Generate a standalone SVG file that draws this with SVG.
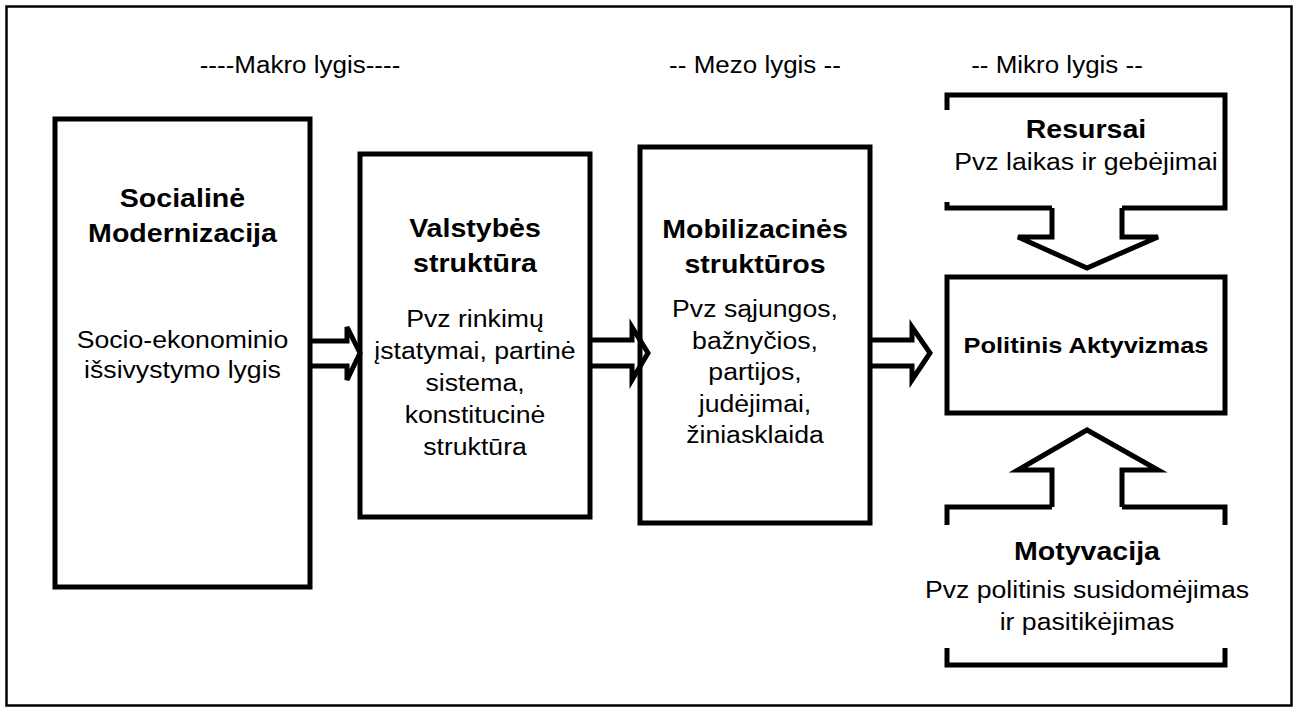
<svg xmlns="http://www.w3.org/2000/svg" width="1294" height="711" viewBox="0 0 1294 711">
<style>
.box{fill:#fff;stroke:#000;stroke-width:5}
.ln{fill:none;stroke:#000;stroke-width:5;stroke-linejoin:miter}
.conn{fill:none;stroke:#000;stroke-width:5;stroke-linejoin:miter}
text{font-family:"Liberation Sans",Arial,sans-serif;text-anchor:middle;fill:#000}
.h{font-size:23.2px}
.r{font-size:23.8px}
.b{font-size:25.5px;font-weight:bold}
.bs{font-size:22.7px;font-weight:bold}
</style>
<rect x="0" y="0" width="1294" height="711" fill="#fff"/>
<rect x="6.5" y="6.5" width="1285" height="699" fill="none" stroke="#000" stroke-width="2.5"/>

<g id="headings">
<g transform="translate(300,0) scale(1.12,1)"><text class="h" x="0" y="73">----Makro lygis----</text></g>
<g transform="translate(755,0) scale(1.12,1)"><text class="h" x="0" y="73">-- Mezo lygis --</text></g>
<g transform="translate(1057,0) scale(1.12,1)"><text class="h" x="0" y="73">-- Mikro lygis --</text></g>
</g>

<g id="node-socialine">
<rect class="box" x="55" y="119" width="255" height="468"/>
<g transform="translate(182.5,0) scale(1.12,1)">
<text class="b" x="0" y="207">Socialinė</text>
<text class="b" x="0" y="242">Modernizacija</text>
<text class="r" x="0" y="348">Socio-ekonominio</text>
<text class="r" x="0" y="378">išsivystymo lygis</text>
</g>
</g>

<g id="node-valstybes">
<rect class="box" x="360" y="154" width="230" height="363"/>
<g transform="translate(475,0) scale(1.12,1)">
<text class="b" x="0" y="237">Valstybės</text>
<text class="b" x="0" y="272">struktūra</text>
<text class="r" x="0" y="327">Pvz rinkimų</text>
<text class="r" x="0" y="359">įstatymai, partinė</text>
<text class="r" x="0" y="391">sistema,</text>
<text class="r" x="0" y="423">konstitucinė</text>
<text class="r" x="0" y="455">struktūra</text>
</g>
</g>

<g id="node-mobilizacines">
<rect class="box" x="640" y="147" width="230" height="376"/>
<g transform="translate(755,0) scale(1.12,1)">
<text class="b" x="0" y="238">Mobilizacinės</text>
<text class="b" x="0" y="273">struktūros</text>
<text class="r" x="0" y="317">Pvz sąjungos,</text>
<text class="r" x="0" y="349">bažnyčios,</text>
<text class="r" x="0" y="380">partijos,</text>
<text class="r" x="0" y="412">judėjimai,</text>
<text class="r" x="0" y="443">žiniasklaida</text>
</g>
</g>

<g id="node-politinis">
<rect class="box" x="947" y="277" width="278" height="136"/>
<g transform="translate(1086,0) scale(1.12,1)">
<text class="bs" x="0" y="353">Politinis Aktyvizmas</text>
</g>
</g>

<g id="node-resursai">
<path class="ln" d="M947,110 V95 H1225 V208 H1122 M1052,208 H947 V202"/>
<g transform="translate(1086,0) scale(1.12,1)">
<text class="b" x="0" y="138">Resursai</text>
<text class="r" x="0" y="170">Pvz laikas ir gebėjimai</text>
</g>
</g>

<g id="node-motyvacija">
<path class="ln" d="M947,525 V507 H1052 M1122,507 H1225 V525"/>
<path class="ln" d="M947,648 V665 H1225 V648"/>
<g transform="translate(1087,0) scale(1.12,1)">
<text class="b" x="0" y="560">Motyvacija</text>
<text class="r" x="0" y="598">Pvz politinis susidomėjimas</text>
<text class="r" x="0" y="630">ir pasitikėjimas</text>
</g>
</g>

<g id="connectors">
<polyline class="conn" points="310,341 347,341 347,327 360,353 347,380 347,366 310,366"/>
<polyline class="conn" points="590,340 632,340 632,327 648,353 632,380 632,366 590,366"/>
<polyline class="conn" points="870,340 912,340 912,327 930,353 912,380 912,366 870,366"/>
<polyline class="conn" points="1052,208 1052,237 1018,237 1087,268 1158,237 1122,237 1122,208"/>
<polyline class="conn" points="1052,507 1052,470 1018,470 1087,430 1158,470 1122,470 1122,507"/>
</g>
</svg>
